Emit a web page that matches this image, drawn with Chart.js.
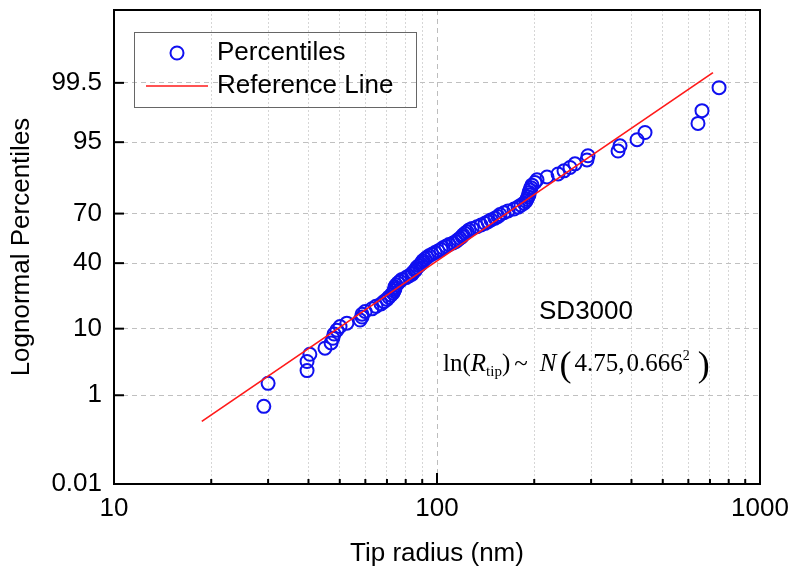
<!DOCTYPE html>
<html>
<head>
<meta charset="utf-8">
<script src="https://cdn.jsdelivr.net/npm/chart.js@4.4.1/dist/chart.umd.min.js"></script>
<style>
  html, body { margin: 0; padding: 0; background: #fff; }
  #wrap { width: 793px; height: 572px; }
</style>
</head>
<body>
<div id="wrap"><canvas id="chart"></canvas></div>
<script>
// tip radius (nm), sorted, and their plotting percentiles (%)
const tipRadius = [
  29.1, 30.0, 39.6, 39.6, 40.4, 45.0, 47.0, 47.6, 48.0, 49.0,
  50.1, 52.6, 57.8, 58.6, 58.6, 59.9, 62.9, 64.7, 67.1, 68.5,
  70.0, 71.0, 72.1, 73.1, 73.6, 74.1, 74.1, 74.7, 75.7, 76.8,
  77.9, 80.2, 81.9, 83.7, 84.3, 85.5, 86.1, 86.7, 88.0, 89.2,
  89.9, 90.5, 91.8, 93.1, 94.5, 96.5, 98.6, 100.7, 102.9, 104.4,
  106.6, 108.9, 112.1, 114.5, 116.1, 117.8, 119.5, 120.4, 122.1, 123.9,
  125.6, 128.4, 133.0, 136.9, 140.8, 143.9, 147.0, 151.2, 154.5, 156.7,
  161.2, 165.9, 173.2, 178.2, 182.0, 186.0, 188.6, 190.0, 191.3, 192.7,
  192.7, 194.1, 195.4, 196.8, 201.1, 204.0, 219.1, 237.0, 247.3, 258.1,
  267.4, 291.3, 293.4, 363.5, 368.7, 416.2, 440.6, 642.7, 661.3, 746.8
];
const percentiles = [
  0.62, 1.62, 2.62, 3.62, 4.61, 5.61, 6.61, 7.61, 8.60, 9.60,
  10.60, 11.60, 12.59, 13.59, 14.59, 15.59, 16.58, 17.58, 18.58, 19.58,
  20.57, 21.57, 22.57, 23.57, 24.56, 25.56, 26.56, 27.56, 28.55, 29.55,
  30.55, 31.55, 32.54, 33.54, 34.54, 35.54, 36.53, 37.53, 38.53, 39.53,
  40.52, 41.52, 42.52, 43.52, 44.51, 45.51, 46.51, 47.51, 48.50, 49.50,
  50.50, 51.50, 52.49, 53.49, 54.49, 55.49, 56.48, 57.48, 58.48, 59.48,
  60.47, 61.47, 62.47, 63.47, 64.46, 65.46, 66.46, 67.46, 68.45, 69.45,
  70.45, 71.45, 72.44, 73.44, 74.44, 75.44, 76.43, 77.43, 78.43, 79.43,
  80.42, 81.42, 82.42, 83.42, 84.41, 85.41, 86.41, 87.41, 88.40, 89.40,
  90.40, 91.40, 92.39, 93.39, 94.39, 95.39, 96.38, 97.38, 98.38, 99.38
];
// reference line end points
const refRadius = [18.7, 715];
const refPercentiles = [0.31, 99.69];

const yTickPercents = [0.01, 1, 10, 40, 70, 95, 99.5];
const xTickLabels = [10, 100, 1000];

// inverse normal cdf (Acklam)
function probit(p) {
  const a = [-39.69683028665376, 220.9460984245205, -275.9285104469687, 138.3577518672690, -30.66479806614716, 2.506628277459239];
  const b = [-54.47609879822406, 161.5858368580409, -155.6989798598866, 66.80131188771972, -13.28068155288572];
  const c = [-0.007784894002430293, -0.3223964580411365, -2.400758277161838, -2.549671010050382, 4.374664141464968, 2.938163982698783];
  const d = [0.007784695709041462, 0.3224671290700398, 2.445134137142996, 3.754408661907416];
  const pl = 0.02425;
  let q, r;
  if (p < pl) {
    q = Math.sqrt(-2 * Math.log(p));
    return (((((c[0]*q+c[1])*q+c[2])*q+c[3])*q+c[4])*q+c[5]) / ((((d[0]*q+d[1])*q+d[2])*q+d[3])*q+1);
  }
  if (p > 1 - pl) {
    q = Math.sqrt(-2 * Math.log(1 - p));
    return -(((((c[0]*q+c[1])*q+c[2])*q+c[3])*q+c[4])*q+c[5]) / ((((d[0]*q+d[1])*q+d[2])*q+d[3])*q+1);
  }
  q = p - 0.5; r = q * q;
  return (((((a[0]*r+a[1])*r+a[2])*r+a[3])*r+a[4])*r+a[5])*q / (((((b[0]*r+b[1])*r+b[2])*r+b[3])*r+b[4])*r+1);
}

// minor + major positions on the log axis
const xGridValues = [];
for (let dec = 10; dec < 1000; dec *= 10) {
  for (let m = 1; m < 10; m++) xGridValues.push(m * dec);
}
xGridValues.push(1000);

const SANS = '"Liberation Sans", Arial, sans-serif';
const SERIF = '"Liberation Serif", "Times New Roman", serif';
const BLUE = '#1010f0';
const RED = '#ff1a1a';

const overlay = {
  id: 'overlay',
  afterDraw(chart) {
    const { ctx, chartArea: a, scales: { x, y } } = chart;
    ctx.save();
    const seg = (x1, y1, x2, y2) => { ctx.beginPath(); ctx.moveTo(x1, y1); ctx.lineTo(x2, y2); ctx.stroke(); };

    // inward tick marks
    ctx.strokeStyle = '#000';
    ctx.lineWidth = 2;
    yTickPercents.forEach(p => {
      const py = y.getPixelForValue(probit(p / 100));
      seg(a.left, py, a.left + 10, py);
    });
    xGridValues.forEach(v => {
      const px = x.getPixelForValue(v);
      seg(px, a.bottom, px, a.bottom - (xTickLabels.includes(v) ? 11 : 5));
    });

    // frame
    ctx.strokeRect(a.left, a.top, a.right - a.left, a.bottom - a.top);

    // legend box
    const lx = a.left + 20, ly = a.top + 22;
    ctx.lineWidth = 1;
    ctx.strokeStyle = '#666';
    ctx.strokeRect(lx + 0.5, ly + 0.5, 282, 75);
    ctx.strokeStyle = BLUE;
    ctx.lineWidth = 2;
    ctx.beginPath();
    ctx.arc(lx + 43, ly + 21, 6.5, 0, Math.PI * 2);
    ctx.stroke();
    ctx.strokeStyle = RED;
    ctx.lineWidth = 1.7;
    seg(lx + 12, ly + 54, lx + 74, ly + 54);
    ctx.fillStyle = '#000';
    ctx.font = '26px ' + SANS;
    ctx.textBaseline = 'middle';
    ctx.textAlign = 'left';
    ctx.fillText('Percentiles', lx + 83, ly + 21);
    ctx.fillText('Reference Line', lx + 83, ly + 54);

    // annotation
    ctx.textAlign = 'center';
    ctx.fillText('SD3000', 586, 312);

    ctx.textAlign = 'left';
    ctx.textBaseline = 'alphabetic';
    const base = 371;
    let cx = 443;
    const put = (txt, font, dy, gap) => {
      ctx.font = font;
      ctx.fillText(txt, cx, base + (dy || 0));
      cx += ctx.measureText(txt).width + (gap || 0);
    };
    put('ln(', '25px ' + SERIF);
    put('R', 'italic 25px ' + SERIF);
    put('tip', '15px ' + SERIF, 5);
    put(')', '25px ' + SERIF, 0, 4);
    put('~', '25px ' + SERIF, 0, 12);
    put('N', 'italic 25px ' + SERIF, 0, 3);
    put('(', '36px ' + SERIF, 5, 3);
    put('4.75,', '25px ' + SERIF, 0, 2);
    put('0.666', '25px ' + SERIF);
    put('2', '14px ' + SERIF, -11, 8);
    put(')', '36px ' + SERIF, 5);
    ctx.restore();
  }
};

const ctx = document.getElementById('chart').getContext('2d');
new Chart(ctx, {
  type: 'scatter',
  data: {
    datasets: [
      {
        label: 'Reference Line',
        type: 'line',
        data: refRadius.map((r, i) => ({ x: r, y: probit(refPercentiles[i] / 100) })),
        borderColor: RED,
        borderWidth: 1.7,
        pointRadius: 0,
        fill: false,
        order: 0
      },
      {
        label: 'Percentiles',
        data: tipRadius.map((r, i) => ({ x: r, y: probit(percentiles[i] / 100) })),
        pointStyle: 'circle',
        pointRadius: 6.5,
        pointBorderWidth: 2,
        borderColor: BLUE,
        backgroundColor: 'rgba(0,0,0,0)',
        order: 1
      }
    ]
  },
  options: {
    responsive: true,
    maintainAspectRatio: false,
    animation: false,
    layout: { padding: { top: 10, right: 33, left: 0, bottom: 0 } },
    plugins: {
      legend: { display: false },
      tooltip: { enabled: false }
    },
    scales: {
      x: {
        type: 'logarithmic',
        min: 10,
        max: 1000,
        afterBuildTicks: scale => { scale.ticks = xGridValues.map(v => ({ value: v })); },
        afterFit: scale => { scale.height = 88; scale.paddingLeft = 0; scale.paddingRight = 0; },
        ticks: {
          autoSkip: false,
          maxRotation: 0,
          padding: 9,
          color: '#000',
          font: { family: SANS, size: 26 },
          callback: v => (xTickLabels.includes(v) ? String(v) : '')
        },
        grid: {
          drawTicks: false,
          color: c => (c.tick && c.tick.value === 100 ? '#bdbdbd' : '#d6d6d6'),
          lineWidth: 1
        },
        border: {
          display: false,
          dash: c => (c.tick && c.tick.value === 100 ? [5, 4] : [2, 2])
        },
        title: {
          display: true,
          text: 'Tip radius (nm)',
          color: '#000',
          font: { family: SANS, size: 26 },
          padding: { top: 0, bottom: 3 }
        }
      },
      y: {
        type: 'linear',
        min: probit(0.0001),
        max: probit(0.9999),
        afterBuildTicks: scale => { scale.ticks = yTickPercents.map(p => ({ value: probit(p / 100) })); },
        afterFit: scale => { scale.width = 114; scale.paddingTop = 0; scale.paddingBottom = 0; },
        ticks: {
          padding: 12,
          color: '#000',
          font: { family: SANS, size: 26 },
          callback: (v, i) => String(yTickPercents[i])
        },
        grid: {
          drawTicks: false,
          color: '#c0c0c0',
          lineWidth: 1
        },
        border: { display: false, dash: [5, 4] },
        title: {
          display: true,
          text: 'Lognormal Percentiles',
          color: '#000',
          font: { family: SANS, size: 26 },
          padding: { top: 6, bottom: 0 }
        }
      }
    }
  },
  plugins: [overlay]
});
</script>
</body>
</html>
